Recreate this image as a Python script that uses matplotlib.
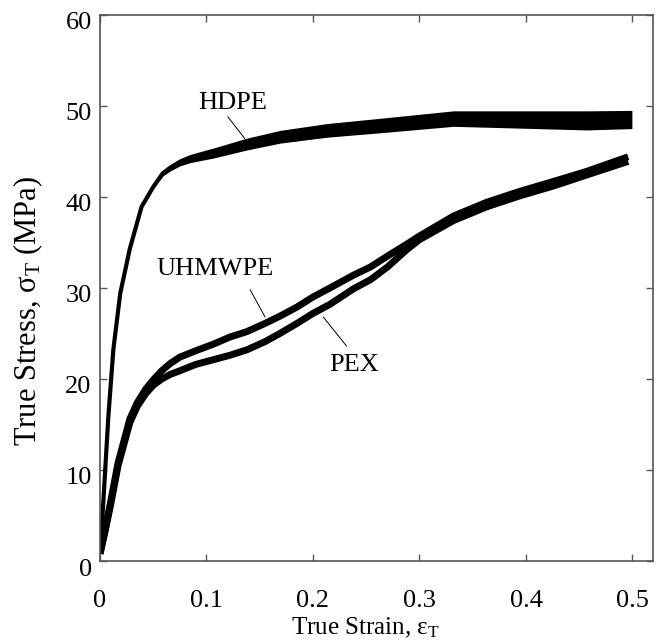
import numpy as np
import matplotlib
matplotlib.use("Agg")
import matplotlib.pyplot as plt
from matplotlib.transforms import ScaledTranslation

plt.rcParams['font.family'] = ['Liberation Serif', 'DejaVu Serif']
plt.rcParams['mathtext.fontset'] = 'custom'
plt.rcParams['mathtext.rm'] = 'Liberation Serif'
plt.rcParams['mathtext.it'] = 'Liberation Serif:italic'

# ---- data ----
hdpe_strain = [0, 0.003, 0.0078, 0.0125, 0.019, 0.028, 0.039, 0.05, 0.059, 0.066,
               0.075, 0.0845, 0.095, 0.106, 0.122, 0.138, 0.169, 0.213, 0.269,
               0.332, 0.394, 0.457, 0.4995]
hdpe_stress = [0.8, 6.3, 15.8, 23.2, 29.4, 34.3, 38.9, 41.1, 42.6, 43.2,
               43.8, 44.2, 44.5, 44.8, 45.3, 45.8, 46.6, 47.3, 47.9,
               48.6, 48.5, 48.4, 48.5]
hdpe_spread = [0, 0, 0, 0, 0, 0, 0.1, 0.2, 0.3, 0.35,
               0.4, 0.45, 0.5, 0.55, 0.6, 0.65, 0.7, 0.75, 0.8,
               0.85, 0.95, 1.05, 1.0]

pe_strain = [0, 0.005, 0.01, 0.017, 0.028, 0.035, 0.043, 0.05, 0.058, 0.066,
             0.075, 0.09, 0.106, 0.122, 0.138, 0.155, 0.169, 0.185, 0.2, 0.216,
             0.238, 0.254, 0.27, 0.288, 0.3, 0.332, 0.363, 0.394, 0.426, 0.457, 0.496]
uhmwpe_stress = [0.8, 3.6, 6.5, 10.8, 15.6, 17.4, 18.9, 19.9, 20.9, 21.7,
                 22.4, 23.1, 23.8, 24.6, 25.2, 26.1, 26.9, 27.9, 29.0, 30.0,
                 31.4, 32.3, 33.5, 34.8, 35.7, 37.9, 39.4, 40.6, 41.7, 42.8, 44.4]
pex_stress = [0.8, 3.4, 6.2, 10.5, 15.2, 17.0, 18.4, 19.3, 20.0, 20.5,
              20.9, 21.6, 22.1, 22.6, 23.2, 24.1, 25.0, 26.1, 27.2, 28.2,
              29.9, 30.9, 32.3, 34.2, 35.3, 37.4, 38.9, 40.1, 41.2, 42.4, 43.9]

x_ticks = [0, 0.1, 0.2, 0.3, 0.4, 0.5]
x_tick_labels = ['0', '0.1', '0.2', '0.3', '0.4', '0.5']
y_ticks = [0, 10, 20, 30, 40, 50, 60]

fig = plt.figure(figsize=(6.61, 6.43), dpi=100)
ax = fig.add_axes([0.1513, 0.1275, 0.9874 - 0.1513, 0.977 - 0.1275])

hx = np.array(hdpe_strain)
hy = np.array(hdpe_stress)
hs = np.array(hdpe_spread)
ax.fill_between(hx, hy - hs, hy + hs, color='black', lw=0)
ax.plot(hx, hy, color='black', lw=3.0, solid_joinstyle='round', solid_capstyle='butt')
ax.plot(pe_strain, uhmwpe_stress, color='black', lw=5.0, solid_joinstyle='round', solid_capstyle='butt')
ax.plot(pe_strain, pex_stress, color='black', lw=5.0, solid_joinstyle='round', solid_capstyle='butt')

fs = 19
arrow = dict(arrowstyle='-', color='black', lw=0.7, shrinkA=0, shrinkB=0)
ax.text(0.125, 50.3, 'HDPE', fontsize=fs, ha='center', va='center')
ax.annotate('', xy=(0.136, 46.4), xytext=(0.120, 48.8), arrowprops=arrow)
ax.text(0.108, 32.1, 'UHMWPE', fontsize=fs, ha='center', va='center')
ax.annotate('', xy=(0.155, 26.8), xytext=(0.141, 29.8), arrowprops=arrow)
ax.text(0.239, 21.5, 'PEX', fontsize=fs, ha='center', va='center')
ax.annotate('', xy=(0.2097, 26.8), xytext=(0.2316, 23.6), arrowprops=arrow)

ax.set_xlim(0, 0.519)
ax.set_ylim(0, 60)
ax.set_xticks(x_ticks)
ax.set_xticklabels(x_tick_labels)
ax.set_yticks(y_ticks)
ax.tick_params(direction='in', length=5, width=1, top=True, right=True,
               labelsize=fs, color='#555555')
ax.tick_params(axis='x', pad=21)
ax.tick_params(axis='y', pad=6)
for s in ax.spines.values():
    s.set_color('#555555')
    s.set_linewidth(1.2)

off = ScaledTranslation(0, -6 / 100, fig.dpi_scale_trans)
for lab in ax.get_yticklabels():
    lab.set_transform(lab.get_transform() + off)

ax.set_xlabel(r'True Strain, ε$_\mathrm{T}$', fontsize=18)
ax.xaxis.set_label_coords(0.481, -0.10)
ax.set_ylabel(r'True Stress, σ$_\mathrm{T}$ (MPa)', fontsize=22)
ax.yaxis.set_label_coords(-0.100, 0.458)

fig.savefig('out.png', dpi=100)
